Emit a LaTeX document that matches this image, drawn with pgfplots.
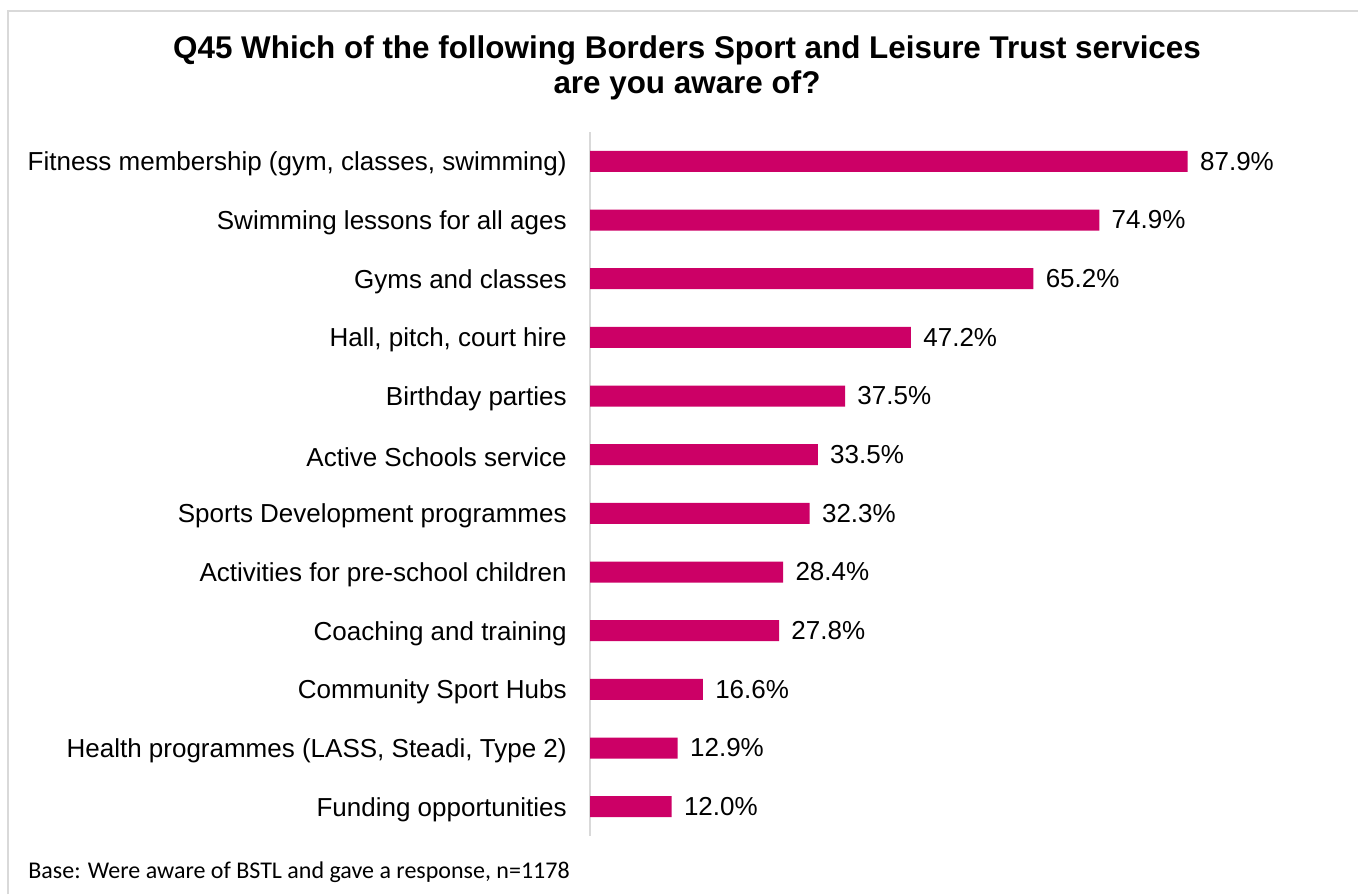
\documentclass[border=0pt]{standalone}
\usepackage{pgfplots}
\pgfplotsset{compat=1.18}
\usepackage{fontspec}
\setmainfont{Liberation Sans}
\newfontfamily\notefont{Carlito}
\definecolor{barc}{HTML}{CC0066}
\definecolor{framec}{HTML}{D9D9D9}
\begin{document}
\begin{tikzpicture}[x=1pt,y=1pt]
\path[use as bounding box] (0,0) rectangle (679,-447);
\draw[framec, line width=0.6pt] (4,-447) -- (4,-5.5) -- (679,-5.5);
\node[anchor=base, font=\bfseries\fontsize{15.7}{18}\selectfont] at (343.5,-29) {Q45 Which of the following Borders Sport and Leisure Trust services};
\node[anchor=base, font=\bfseries\fontsize{15.7}{18}\selectfont] at (343.5,-46.5) {are you aware of?};
\node[anchor=base west, font=\notefont\fontsize{12}{14}\selectfont, inner sep=0pt] at (14,-439) {Base: Were aware of BSTL and gave a response, n=1178};
\begin{axis}[
  at={(295pt,-418pt)}, anchor=south west,
  scale only axis, width=340pt, height=352pt,
  xmin=0, xmax=100, ymin=-0.5, ymax=11.5,
  y dir=reverse,
  xbar, bar width=10.5pt,
  axis x line=none,
  axis y line*=left,
  y axis line style={draw=framec, line width=0.6pt, -},
  ytick={0,...,11},
  yticklabels={{Fitness membership (gym, classes, swimming)},Swimming lessons for all ages,Gyms and classes,{Hall, pitch, court hire},Birthday parties,Active Schools service,Sports Development programmes,Activities for pre-school children,Coaching and training,Community Sport Hubs,{Health programmes (LASS, Steadi, Type 2)},Funding opportunities},
  major tick length=0pt,
  yticklabel style={font=\fontsize{13}{15}\selectfont, inner sep=0pt, xshift=-11.5pt, yshift=-1.3pt},
  nodes near coords,
  point meta=explicit symbolic,
  every node near coord/.append style={font=\fontsize{13}{15}\selectfont, inner sep=0pt, anchor=west, xshift=6pt, text=black},
]
\addplot[fill=barc, draw=none] table[meta=l] {
x y l
87.9 0 87.9\%
74.9 1 74.9\%
65.2 2 65.2\%
47.2 3 47.2\%
37.5 4 37.5\%
33.5 5 33.5\%
32.3 6 32.3\%
28.4 7 28.4\%
27.8 8 27.8\%
16.6 9 16.6\%
12.9 10 12.9\%
12.0 11 12.0\%
};
\end{axis}
\end{tikzpicture}
\end{document}
